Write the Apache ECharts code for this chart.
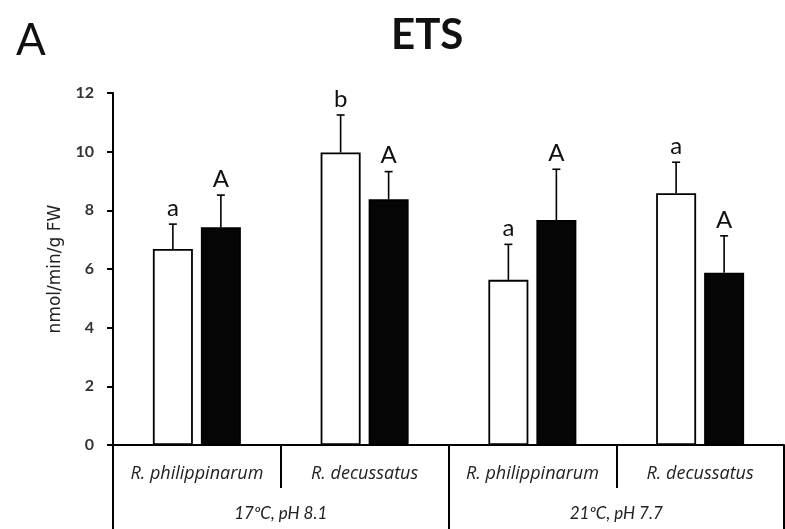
<!DOCTYPE html>
<html>
<head>
<meta charset="utf-8">
<script src="https://cdn.jsdelivr.net/npm/echarts@6/dist/echarts.min.js"></script>
<style>html,body{margin:0;padding:0;background:#fff}#c{width:785px;height:529px}</style>
</head>
<body>
<div id="c"></div>
<script>
// ---- data ----
const species = ['R. philippinarum', 'R. decussatus', 'R. philippinarum', 'R. decussatus'];
const conditions = ['17ºC, pH 8.1', '21ºC, pH 7.7'];
const openMean = [6.68, 9.97, 5.63, 8.58];
const openErr = [0.85, 1.28, 1.21, 1.06];
const openLetters = ['a', 'b', 'a', 'a'];
const filledMean = [7.42, 8.38, 7.67, 5.87];
const filledErr = [1.10, 0.94, 1.73, 1.26];
const filledLetters = ['A', 'A', 'A', 'A'];
const yMin = 0, yMax = 12, yStep = 2;

// ---- style constants ----
const FONT = 'Lato, "Open Sans", sans-serif';
const BAR_W = 40, BAR_GAP = 0.2;

const chart = echarts.init(document.getElementById('c'), null, {renderer: 'canvas'});

function errData(means, errs, side) {
  return means.map((m, i) => [i, m, errs[i], side]);
}
const letters = {2: openLetters, 3: filledLetters};

function renderErr(params, api) {
  const ci = api.value(0), mean = api.value(1), err = api.value(2), side = api.value(3);
  const letter = letters[params.seriesIndex][params.dataIndex];
  const off = side * BAR_W * (1 + BAR_GAP) / 2;
  const base = api.coord([ci, mean]);
  const top = api.coord([ci, mean + err]);
  const x = base[0] + off;
  const cap = 4;
  return {
    type: 'group',
    children: [
      {type: 'line', shape: {x1: x, y1: base[1], x2: x, y2: top[1]}, style: {stroke: '#000', lineWidth: 1.6}},
      {type: 'line', shape: {x1: x - cap, y1: top[1], x2: x + cap, y2: top[1]}, style: {stroke: '#000', lineWidth: 1.6}},
      {type: 'text', x: x, y: top[1] - 4, style: {text: letter, textAlign: 'center', textVerticalAlign: 'bottom', font: '24px ' + FONT, fill: '#111'}}
    ]
  };
}

chart.setOption({
  animation: false,
  backgroundColor: '#fff',
  title: [
    {text: 'ETS', left: 386, top: 9, textStyle: {fontFamily: FONT, fontSize: 42, fontWeight: 'bold', color: '#111'}},
    {text: 'A', left: 11, top: 14, textStyle: {fontFamily: FONT, fontSize: 44, fontWeight: 'normal', color: '#111'}}
  ],
  grid: {left: 113, right: 1, top: 93, bottom: 84, containLabel: false},
  xAxis: [
    {
      type: 'category', data: species, position: 'bottom', boundaryGap: true,
      axisLine: {show: true, lineStyle: {color: '#000', width: 2}},
      axisTick: {show: true, interval: 0, alignWithLabel: false, length: 43, lineStyle: {color: '#000', width: 2}},
      axisLabel: {interval: 0, margin: 20, fontFamily: '"Open Sans", sans-serif', fontSize: 18, fontStyle: 'italic', color: '#222'}
    },
    {
      type: 'category', data: conditions, position: 'bottom', boundaryGap: true,
      axisLine: {show: false},
      axisTick: {show: true, interval: 0, alignWithLabel: false, length: 84, lineStyle: {color: '#000', width: 2}},
      axisLabel: {interval: 0, margin: 60, fontFamily: FONT, fontSize: 17, fontStyle: 'italic', color: '#222'}
    }
  ],
  yAxis: {
    type: 'value', min: yMin, max: yMax, interval: yStep,
    name: 'nmol/min/g FW', nameLocation: 'middle', nameGap: 49, nameRotate: 90,
    nameTextStyle: {fontFamily: '"DejaVu Sans", sans-serif', fontSize: 17, color: '#222'},
    axisLine: {show: true, lineStyle: {color: '#000', width: 2}},
    axisTick: {show: true, length: 6, lineStyle: {color: '#000', width: 2}},
    axisLabel: {margin: 19, fontFamily: FONT, fontSize: 16, fontWeight: 'bold', color: '#333'},
    splitLine: {show: false}
  },
  series: [
    {type: 'bar', name: 'open', data: openMean, barWidth: BAR_W, barGap: (BAR_GAP * 100) + '%',
     itemStyle: {color: '#fff', borderColor: '#000', borderWidth: 1.8}},
    {type: 'bar', name: 'filled', data: filledMean, barWidth: BAR_W, barGap: (BAR_GAP * 100) + '%',
     itemStyle: {color: '#050505', borderColor: '#000', borderWidth: 1.8}},
    {type: 'custom', name: 'open err', data: errData(openMean, openErr, -1), renderItem: renderErr, z: 5},
    {type: 'custom', name: 'filled err', data: errData(filledMean, filledErr, 1), renderItem: renderErr, z: 5}
  ]
});
</script>
</body>
</html>
